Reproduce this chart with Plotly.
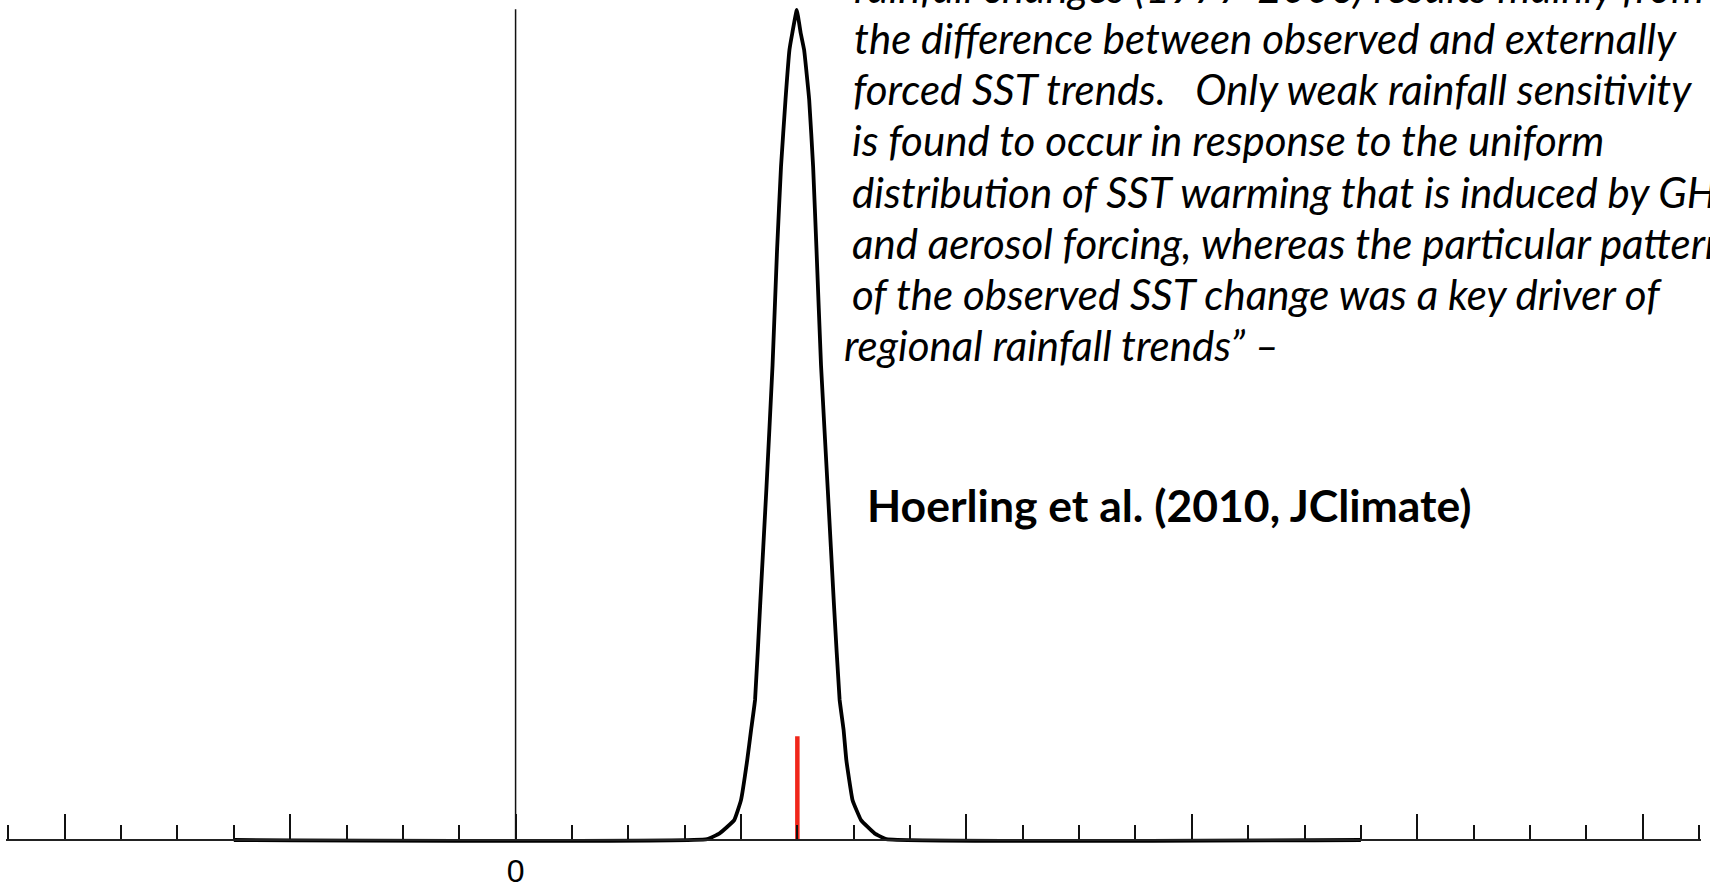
import plotly.graph_objects as go

# ---- data (x in axis units, y as fraction of peak height) ----
curve_x = [-5.0, 3.40, 3.62, 3.88, 4.00, 4.11, 4.18, 4.25, 4.34, 4.45, 4.56, 4.64, 4.71, 4.79, 4.86, 4.91, 4.99,
           5.06, 5.12, 5.21, 5.28, 5.34, 5.42, 5.54, 5.65, 5.75, 5.82, 5.87, 5.98, 6.13, 6.37, 6.58, 15.0]
curve_y = [0.0, 0.001, 0.008, 0.024, 0.048, 0.096, 0.133, 0.169, 0.283, 0.422, 0.572, 0.711, 0.811, 0.892, 0.952, 0.972, 1.0,
           0.972, 0.952, 0.892, 0.811, 0.711, 0.572, 0.422, 0.283, 0.169, 0.133, 0.096, 0.048, 0.024, 0.008, 0.001, 0.0]

zero_line_x = [0, 0]
zero_line_y = [0, 1.001]

observed_x = [5.0, 5.0]
observed_y = [0, 0.125]

major_ticks = [-8, -4, 0, 4, 8, 12, 16, 20]
major_labels = ["", "", "0", "", "", "", "", ""]
minor_ticks = [v for v in range(-9, 22) if v not in major_ticks]

quote_lines = [
    "rainfall changes (1977-2006) results mainly from",
    "the difference between observed and externally",
    "forced SST trends.   Only weak rainfall sensitivity",
    "is found to occur in response to the uniform",
    "distribution of SST warming that is induced by GHG",
    "and aerosol forcing, whereas the particular pattern",
    "of the observed SST change was a key driver of",
    "regional rainfall trends\u201d \u2013",
]
citation = "Hoerling et al. (2010, JClimate)"

# ---- layout geometry (figure pixels) ----
W, H = 1710, 884
base_px, peak_px = 840, 10
unit_px = base_px - peak_px
ymin = -(H - base_px) / unit_px
ymax = ymin + H / unit_px

tick_px = (1699 - 8.4) / 30.0
dom_l, dom_r = 6.0, 1701.0
xr0 = -9 - (8.4 - dom_l) / tick_px
xr1 = 21 + (dom_r - 1699) / tick_px

fig = go.Figure()
fig.add_trace(go.Scatter(x=zero_line_x, y=zero_line_y, mode="lines",
                         line=dict(color="#111111", width=1.5), hoverinfo="skip"))
fig.add_trace(go.Scatter(x=curve_x, y=curve_y, mode="lines",
                         line=dict(color="#000000", width=3.8, shape="spline", smoothing=0.3),
                         hoverinfo="skip"))
fig.add_trace(go.Scatter(x=observed_x, y=observed_y, mode="lines",
                         line=dict(color="#f0261a", width=4.5), hoverinfo="skip"))

line_x_px = [852, 852, 851, 850, 850, 850, 850, 842]
line_y_px = [-13, 38, 89.5, 140, 192, 243, 294.5, 345]
for txt, xp, yp in zip(quote_lines, line_x_px, line_y_px):
    fig.add_annotation(text=txt, x=xp / W, y=1 - yp / H, xref="paper", yref="paper",
                       xanchor="left", yanchor="middle", showarrow=False,
                       font=dict(family="Lato", size=42, color="#000000", style="italic"))

fig.add_annotation(text="<b>" + citation + "</b>", x=865 / W, y=1 - 504 / H,
                   xref="paper", yref="paper", xanchor="left", yanchor="middle", showarrow=False,
                   font=dict(family="Lato", size=44.5, color="#000000"))

fig.update_layout(
    width=W, height=H,
    margin=dict(l=0, r=0, t=0, b=0, autoexpand=False),
    paper_bgcolor="white", plot_bgcolor="white",
    showlegend=False,
    xaxis=dict(domain=[dom_l / W, dom_r / W], range=[xr0, xr1], anchor="free", position=(H - base_px) / H,
               automargin=False,
               showgrid=False, zeroline=False, showline=True, linecolor="#222222", linewidth=1.5,
               tickmode="array", tickvals=major_ticks, ticktext=major_labels,
               ticks="inside", ticklen=25, tickwidth=1.5, tickcolor="#111111",
               tickfont=dict(family="Liberation Sans", size=32, color="#000000"),
               ticklabelstandoff=3,
               minor=dict(tickmode="array", tickvals=minor_ticks, ticks="inside", ticklen=14,
                          tickwidth=1.5, tickcolor="#111111", showgrid=False)),
    yaxis=dict(visible=False, range=[ymin, ymax], domain=[0, 1], automargin=False),
)

fig.write_html("out.html", config={"displayModeBar": False},
               post_script="document.body.style.margin='0px';")
